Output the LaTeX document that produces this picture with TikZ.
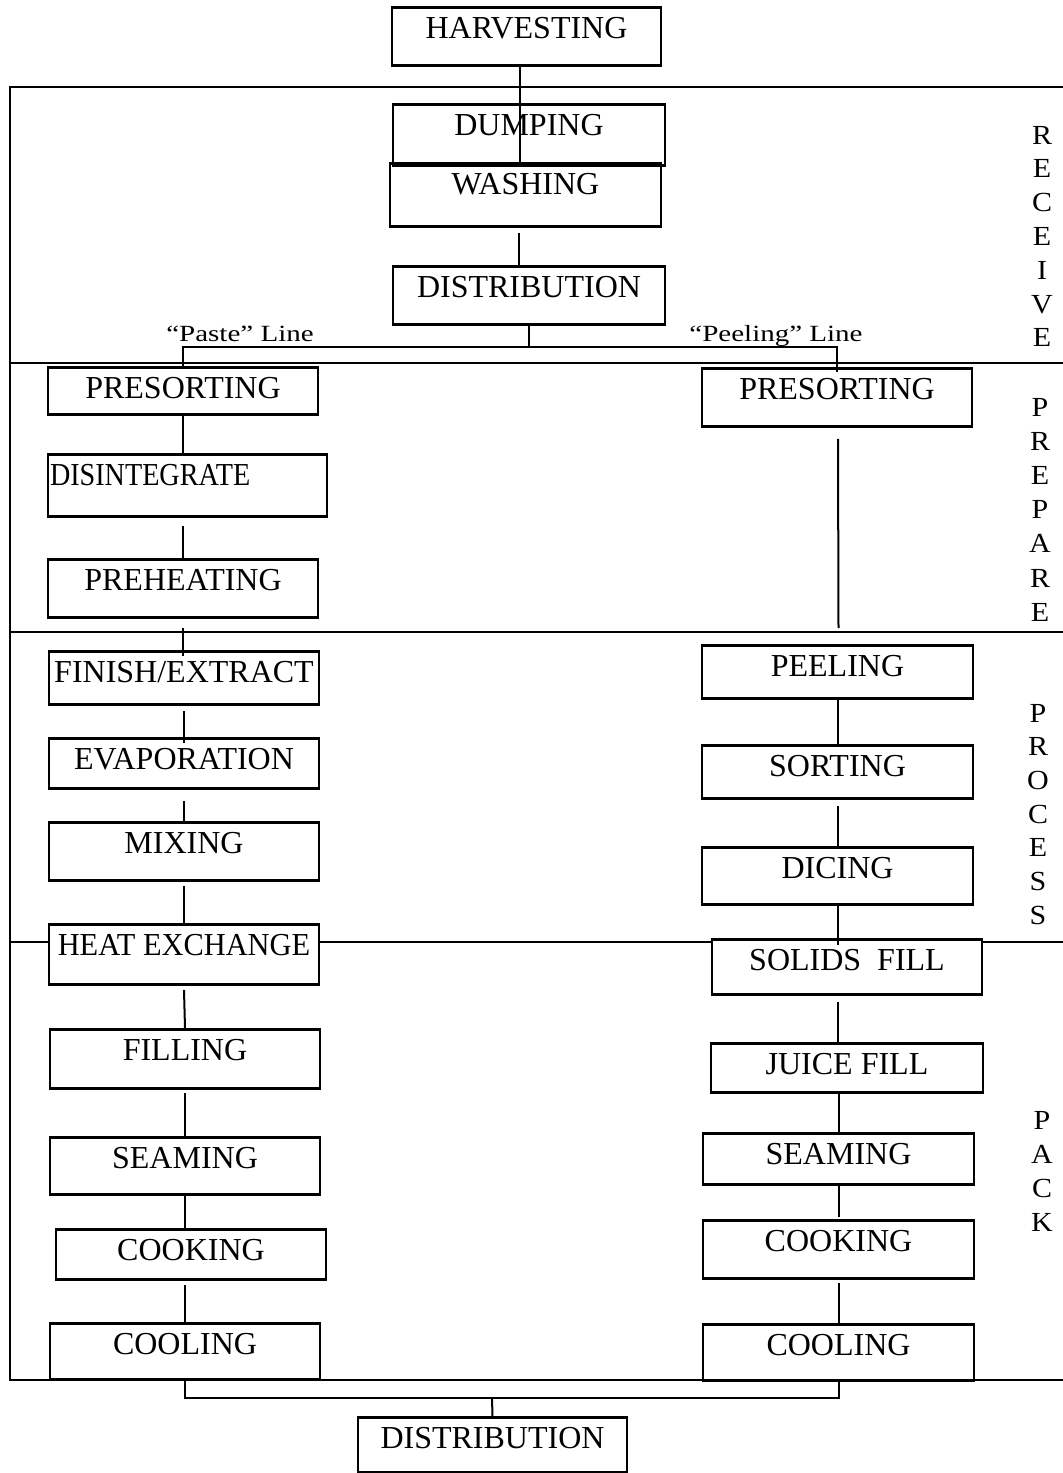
\documentclass[tikz,border=0pt]{standalone}
\usepackage{fontspec}
\setmainfont{Liberation Serif}
\usetikzlibrary{calc}
\tikzset{
  box/.style={draw,line width=1.4pt,inner xsep=0pt,inner ysep=0pt,text height=15.75pt,
    font=\fontsize{16}{18}\selectfont},
  conn/.style={line width=1pt},
  frame/.style={line width=1.4pt},
  lbl/.style={inner sep=0pt,anchor=base,font=\fontsize{14.5}{16}\selectfont},
  side/.style={inner sep=0pt,anchor=base,font=\fontsize{15}{15}\selectfont}
}
\newcommand\mybox[7][]{%
  \pgfmathsetmacro\mybw{(#5-#3)*0.5}%
  \pgfmathsetmacro\mybd{(#6-#4-31.5)*0.5}%
  \pgfmathsetmacro\mybcx{(#3+#5)/2}%
  \node[box,minimum width=\mybw pt,text depth=\mybd pt,anchor=north,#1] (#2) at (\mybcx,#4) {#7};}
\begin{document}
\begin{tikzpicture}[x=0.5pt,y=-0.5pt]
\useasboundingbox (0,0) rectangle (1063,1473);
% frame of the stages
\draw[frame] (1063,87) -- (10,87) -- (10,1380) -- (1063,1380);
\draw[frame] (10,363) -- (1063,363);
\draw[frame] (10,632) -- (1063,632);
\draw[frame] (10,942) -- (49,942);
\draw[frame] (319,942) -- (712,942);
\draw[frame] (982,942) -- (1063,942);
% boxes
\mybox{harv}{392}{6}{661}{64}{HARVESTING}
\mybox{dump}{393}{103}{665}{164}{DUMPING}
\mybox{wash}{390}{162}{661}{225}{WASHING}
\mybox{dist}{393}{265}{665}{323}{DISTRIBUTION}
\mybox{preL}{48}{366}{318}{413}{PRESORTING}
\mybox{preR}{702}{367}{972}{425}{PRESORTING}
\mybox{dis}{48}{453}{327}{515}{\hbox to 139.5pt{\hspace{1pt}\scalebox{0.88}[1]{DISINTEGRATE}\hss}}
\mybox{preh}{48}{558}{318}{616}{PREHEATING}
\mybox{fin}{49}{650}{319}{703}{FINISH/EXTRACT}
\mybox{evap}{49}{737}{319}{787}{EVAPORATION}
\mybox{mix}{49}{821}{319}{879}{MIXING}
\mybox{heat}{49}{923}{319}{983}{\scalebox{0.95}[1]{HEAT EXCHANGE}}
\mybox{fill}{50}{1028}{320}{1087}{FILLING}
\mybox{seamL}{50}{1136}{320}{1193}{SEAMING}
\mybox{cookL}{56}{1228}{326}{1278}{COOKING}
\mybox{coolL}{50}{1322}{320}{1378}{COOLING}
\mybox{peel}{702}{644}{973}{697}{PEELING}
\mybox{sort}{702}{744}{973}{797}{SORTING}
\mybox{dice}{702}{846}{973}{903}{DICING}
\mybox{sol}{712}{938}{982}{993}{SOLIDS\ \ FILL}
\mybox{juice}{711}{1042}{983}{1091}{JUICE FILL}
\mybox{seamR}{703}{1132}{974}{1183}{SEAMING}
\mybox{cookR}{703}{1219}{974}{1277}{COOKING}
\mybox{coolR}{703}{1323}{974}{1379}{COOLING}
\mybox{distB}{358}{1416}{627}{1471}{DISTRIBUTION}
% line labels
\node[lbl] (pasteL) at (240,341) {\scalebox{1}[0.8]{“Paste” Line}};
\node[lbl] (peelL) at (776,341) {\scalebox{1}[0.8]{“Peeling” Line}};
% stage names
\foreach \l [count=\i] in {R,E,C,E,I,V,E}
  \node[side] (rc\i) at (1042,{144+33.8*(\i-1)}) {\scalebox{1}[0.92]{\l}};
\foreach \l [count=\i] in {P,R,E,P,A,R,E}
  \node[side] (pr\i) at (1040,{416+34.2*(\i-1)}) {\scalebox{1}[0.92]{\l}};
\foreach \l [count=\i] in {P,R,O,C,E,S,S}
  \node[side] (pc\i) at (1038,{722+33.7*(\i-1)}) {\scalebox{1}[0.92]{\l}};
\foreach \l [count=\i] in {P,A,C,K}
  \node[side] (pk\i) at (1042,{1129+34.3*(\i-1)}) {\scalebox{1}[0.92]{\l}};
% connectors, receive
\draw[conn] ($(harv.south)+(-7,0)$) -- ($(wash.north)+(-6,5)$);
\draw[conn] ($(wash.south)+(-6.5,5)$) -- ($(dist.north)+(-10,0)$);
\coordinate (split) at (529,347);
\draw[conn] (dist.south) -- (split);
\draw[conn] ($(preL.north)+(0,3)$) |- (split) -| ($(preR.north)+(0,5)$);
% paste line
\draw[conn] (preL.south) -- (preL.south |- dis.north);
\draw[conn] ($(dis.south -| preh.north)+(0,8)$) -- (preh.north);
\draw[conn] ($(preh.south)+(0,9)$) -- ($(fin.north -| preh.south)+(0,6)$);
\draw[conn] ($(fin.south)+(0,5)$) -- ($(evap.north)+(0,6)$);
\draw[conn] ($(evap.south)+(0,11)$) -- (mix.north);
\draw[conn] ($(mix.south)+(0,4)$) -- (heat.north);
\draw[conn] ($(heat.south)+(0,4)$) -- (fill.north);
\draw[conn] ($(fill.south)+(0,3)$) -- (seamL.north);
\draw[conn] (seamL.south) -- (seamL.south |- cookL.north);
\draw[conn] ($(cookL.south -| coolL.north)+(0,4)$) -- (coolL.north);
% peeling line
\draw[conn] ($(preR.south)+(1,11)$) -- ($(peel.north)+(1,-16)$);
\draw[conn] (peel.south) -- (sort.north);
\draw[conn] ($(sort.south)+(0,6)$) -- (dice.north);
\draw[conn] (dice.south) -- ($(dice.south)+(0,39)$);
\draw[conn] ($(sol.south)+(-9,6)$) -- ($(juice.north)+(-9,0)$);
\draw[conn] (seamR.north |- juice.south) -- (seamR.north);
\draw[conn] (seamR.south) -- ($(cookR.north)+(0,-2)$);
\draw[conn] ($(cookR.south)+(0,3)$) -- (coolR.north);
% join to distribution
\coordinate (join) at (492,1398);
\draw[conn] (coolL.south) |- (join) -| (coolR.south);
\draw[conn] (join) -- (distB.north);
\end{tikzpicture}
\end{document}
